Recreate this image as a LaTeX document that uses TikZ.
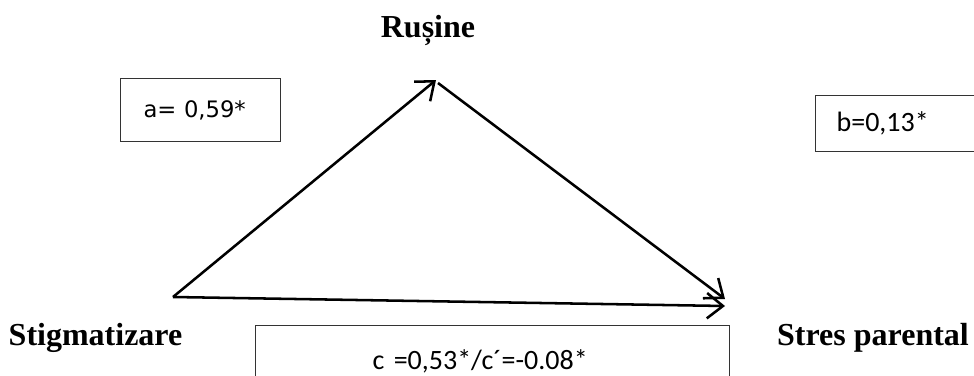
\documentclass[tikz,border=0pt]{standalone}
\usepackage{fontspec}
\setmainfont{Liberation Serif}
\newfontfamily\calibrifont{Carlito}
\newfontfamily\dejavufont{DejaVu Sans}
\usetikzlibrary{calc,positioning,arrows.meta}

\begin{document}
\begin{tikzpicture}[x=0.75pt,y=-0.75pt]
\tikzstyle{lbl}=[anchor=base, inner sep=0pt, font=\fontsize{24}{28}\selectfont\bfseries]
\tikzstyle{box}=[draw=black!80, line width=0.9pt, anchor=north west, inner ysep=0pt, align=left]
\tikzstyle{arr}=[line width=1.9pt, -{Straight Barb[length=12pt,width=19pt]}]
\useasboundingbox (0,0) rectangle (974,375);
\clip (0,0) rectangle (974,375);
% end points of the three paths
\coordinate (S) at (173,297);
\coordinate (R) at (436,80);
\coordinate (Rs) at (438,83);
\coordinate (P) at (725,299);
\coordinate (Pb) at (725,306);
% labels
\node[lbl] (rus) at (428,37) {Rușine};
\node[lbl] (stig) at (95.5,345) {Stigmatizare};
\node[lbl] (stres) at (873,345) {Stres parental};
% coefficient boxes
\node[box, minimum height=47.25pt, inner xsep=17.25pt, text width=85.5pt,
  font=\dejavufont\fontsize{17}{20}\selectfont] (a) at (120,78) {a= 0,59*};
\node[box, minimum height=42pt, inner xsep=15.75pt, text width=103.5pt,
  font=\calibrifont\fontsize{21}{25}\selectfont] (b) at (815,95) {b=0,13*};
\node[box, minimum height=53pt, inner xsep=87.75pt, text width=180pt,
  font=\calibrifont\fontsize{21}{25}\selectfont] (c) at (255,325) {c =0,53*/c´=-0.08*};
% paths
\draw[arr] (S) -- (R);
\draw[arr] (Rs) -- (P);
\draw[arr] (S) -- (Pb);
\end{tikzpicture}
\end{document}
